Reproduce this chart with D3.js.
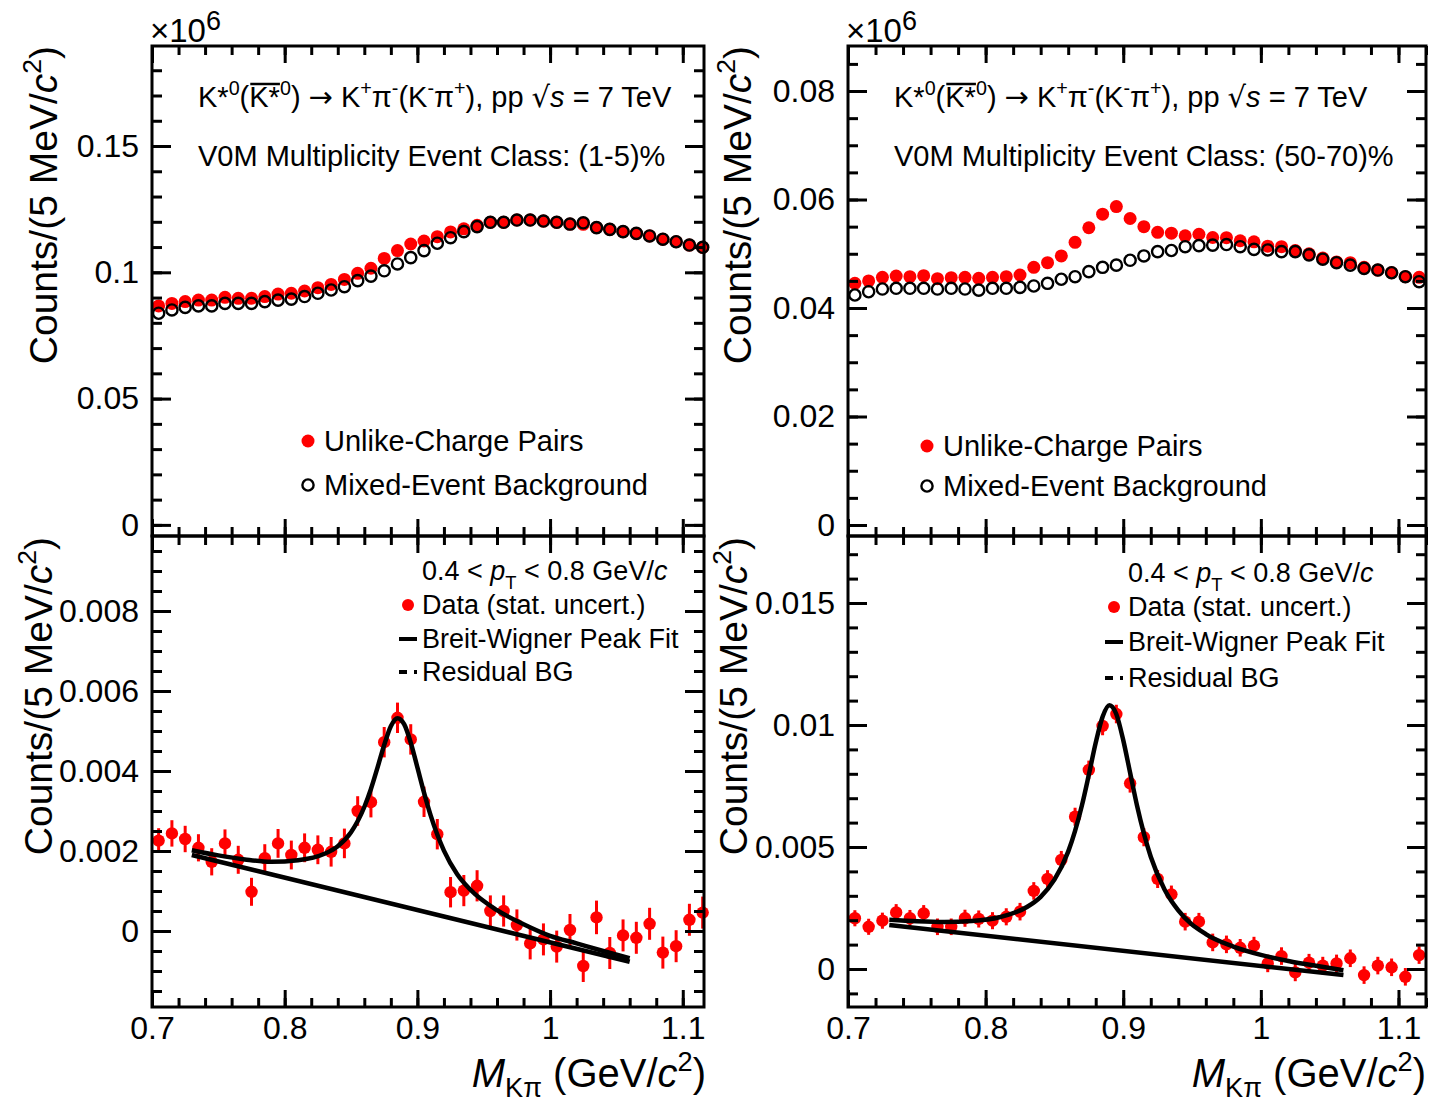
<!DOCTYPE html>
<html>
<head>
<meta charset="utf-8">
<script src="https://cdn.jsdelivr.net/npm/d3@7"></script>
<style>
  body { margin: 0; background: #fff; }
  svg text { font-family: "Liberation Sans", Arial, Helvetica, sans-serif; fill: #000; }
</style>
</head>
<body>
<div id="chart"></div>
<script>
// bin centres, GeV/c^2
const massBins = [0.705, 0.715, 0.725, 0.735, 0.745, 0.755, 0.765, 0.775, 0.785, 0.795,
    0.805, 0.815, 0.825, 0.835, 0.845, 0.855, 0.865, 0.875, 0.885, 0.895,
    0.905, 0.915, 0.925, 0.935, 0.945, 0.955, 0.965, 0.975, 0.985, 0.995,
    1.005, 1.015, 1.025, 1.035, 1.045, 1.055, 1.065, 1.075, 1.085, 1.095,
    1.105, 1.115];

// (1-5)% class, counts x10^6
const unlikeLow = [0.0867, 0.0877, 0.0884, 0.0890, 0.0890, 0.0901, 0.0897, 0.0897, 0.0904, 0.0914,
    0.0917, 0.0926, 0.0939, 0.0952, 0.0972, 0.0996, 0.1016, 0.1055, 0.1086, 0.1112,
    0.1124, 0.1141, 0.1160, 0.1172, 0.1186, 0.1198, 0.1198, 0.1207, 0.1207, 0.1203,
    0.1198, 0.1191, 0.1190, 0.1177, 0.1170, 0.1161, 0.1154, 0.1144, 0.1131, 0.1121,
    0.1108, 0.1099];
const mixedLow = [0.0838, 0.0851, 0.0861, 0.0867, 0.0867, 0.0877, 0.0877, 0.0877, 0.0884, 0.0890,
    0.0894, 0.0904, 0.0917, 0.0930, 0.0943, 0.0967, 0.0985, 0.1006, 0.1033, 0.1058,
    0.1086, 0.1115, 0.1137, 0.1161, 0.1181, 0.1198, 0.1198, 0.1207, 0.1207, 0.1203,
    0.1198, 0.1191, 0.1196, 0.1177, 0.1170, 0.1161, 0.1154, 0.1144, 0.1131, 0.1121,
    0.1108, 0.1099];

// (50-70)% class, counts x10^6
const unlikeHigh = [0.04455, 0.0450, 0.04565, 0.0459, 0.04577, 0.04596, 0.0454, 0.04559, 0.04565, 0.04547,
    0.04565, 0.04577, 0.04608, 0.0475, 0.04835, 0.0496, 0.0521, 0.0548, 0.0573, 0.0587,
    0.0565, 0.0550, 0.05395, 0.0538, 0.0533, 0.0536, 0.0530, 0.05296, 0.0524, 0.0522,
    0.0514, 0.0513, 0.0506, 0.0500, 0.0492, 0.0485, 0.04835, 0.0475, 0.0470, 0.0465,
    0.04577, 0.04565];
const mixedHigh = [0.0424, 0.0430, 0.0435, 0.04363, 0.04363, 0.04363, 0.0435, 0.04363, 0.0435, 0.0433,
    0.04363, 0.04363, 0.0438, 0.04406, 0.04455, 0.0453, 0.04577, 0.0467, 0.0475, 0.0479,
    0.0488, 0.0496, 0.0504, 0.0506, 0.0513, 0.0515, 0.0516, 0.0517, 0.0513, 0.0508,
    0.0507, 0.0504, 0.0504, 0.0498, 0.0490, 0.04835, 0.0479, 0.0473, 0.0470, 0.0465,
    0.04577, 0.04485];

// background subtracted signal, counts x10^6
const signalLow = [0.00226, 0.00244, 0.0023, 0.00208, 0.00173, 0.00219, 0.00178, 0.00098, 0.00182, 0.00219,
    0.0019, 0.00208, 0.00203, 0.00198, 0.00219, 0.0030, 0.00322, 0.00472, 0.00533, 0.00479,
    0.00323, 0.00242, 0.00097, 0.00101, 0.00113, 0.0005, 0.0005, 0.00015, -0.00031, -0.00021,
    -0.00039, 0.000025, -0.000875, 0.00034, -0.00055, -0.00011, -0.00017, 0.00018, -0.00054, -0.00038,
    0.00028, 0.00046];
const errLow = [0.00031, 0.00033, 0.00033, 0.00034, 0.00034, 0.00035, 0.00035, 0.00035, 0.00035, 0.00036,
    0.00036, 0.00036, 0.00036, 0.00037, 0.00037, 0.00037, 0.00038, 0.00038, 0.00038, 0.00038,
    0.00038, 0.00038, 0.00038, 0.00039, 0.00039, 0.00039, 0.00039, 0.00039, 0.0004, 0.0004,
    0.0004, 0.0004, 0.0004, 0.00042, 0.0004, 0.0004, 0.0004, 0.0004, 0.0004, 0.0004,
    0.0004, 0.0004];
const signalHigh = [0.00208, 0.00173, 0.00198, 0.00232, 0.00208, 0.00228, 0.00173, 0.00173, 0.00208, 0.00205,
    0.00198, 0.00214, 0.00235, 0.0032, 0.00369, 0.00447, 0.00624, 0.00816, 0.00996, 0.01045,
    0.00761, 0.0054, 0.00369, 0.00306, 0.00194, 0.00194, 0.00109, 0.00101, 0.00087, 0.00096,
    0.00023, 0.00053, -0.00014, 0.00026, 0.00014, 0.00023, 0.00044, -0.00025, 0.00014, 0.00007,
    -0.00032, 0.00057];
const errHigh = [0.00033, 0.00033, 0.00033, 0.00034, 0.00034, 0.00034, 0.00034, 0.00034, 0.00035, 0.00035,
    0.00035, 0.00035, 0.00036, 0.00036, 0.00036, 0.00037, 0.00037, 0.00038, 0.00038, 0.00038,
    0.00038, 0.00037, 0.00037, 0.00036, 0.00036, 0.00036, 0.00036, 0.00036, 0.00036, 0.00036,
    0.00036, 0.00036, 0.00036, 0.00036, 0.00036, 0.00036, 0.00036, 0.00036, 0.00036, 0.00036,
    0.00036, 0.00036];

// fit curves
const fitMass = [0.73, 0.75, 0.77, 0.79, 0.81, 0.83, 0.84, 0.85, 0.86, 0.865, 0.87, 0.875, 0.88, 0.885,
    0.89, 0.895, 0.90, 0.905, 0.91, 0.92, 0.93, 0.94, 0.96, 0.98, 1.00, 1.02, 1.04, 1.06];
const fitLow = [0.00202, 0.00189, 0.00179, 0.00173, 0.00177, 0.00193, 0.00212, 0.00247, 0.0031, 0.00355,
    0.00409, 0.00465, 0.00512, 0.00532, 0.00517, 0.00471, 0.00409, 0.00346, 0.00289, 0.00201,
    0.00142, 0.00103, 0.00052, 0.00017, -0.00012, -0.00031, -0.0005, -0.00068];
const fitHigh = [0.00202, 0.00196, 0.00193, 0.00197, 0.00212, 0.00254, 0.00296, 0.00366, 0.00481, 0.00566,
    0.00671, 0.00796, 0.00927, 0.01034, 0.01081, 0.01044, 0.00938, 0.00804, 0.0067, 0.0046,
    0.00326, 0.0024, 0.00143, 0.00092, 0.00058, 0.00033, 0.00013, -0.00005];
const bgMass = [0.73, 1.06];
const bgLow = [0.0019, -0.00077];
const bgHigh = [0.0018, -0.00025];

// tick labels
const xTicks = [0.7, 0.8, 0.9, 1, 1.1];
const yTicksTopLow = [0, 0.05, 0.1, 0.15];
const yTicksTopHigh = [0, 0.02, 0.04, 0.06, 0.08];
const yTicksBotLow = [0, 0.002, 0.004, 0.006, 0.008];
const yTicksBotHigh = [0, 0.005, 0.01, 0.015];

const FONT = "'Liberation Sans', Arial, Helvetica, sans-serif";

const svg = d3.select("#chart").append("svg")
    .attr("width", 1443)
    .attr("height", 1104);

// text with super/subscripts as tspans
function richText(parent, x, y, size, parts, anchor) {
    const text = parent.append("text")
        .attr("x", x)
        .attr("y", y)
        .attr("font-size", size)
        .attr("text-anchor", anchor || "start");
    let shift = 0;
    parts.forEach(p => {
        const target = p.sup ? -(p.rise || 0.4) * size : (p.sub ? (p.drop || 0.32) * size : 0);
        const span = text.append("tspan")
            .attr("dy", target - shift)
            .attr("font-size", p.size || ((p.sup || p.sub) ? 0.68 * size : size))
            .text(p.t);
        if (p.it) span.attr("font-style", "italic");
        if (p.font) span.attr("font-family", p.font);
        if (p.over) span.classed("over", true);
        shift = target;
    });
    return text;
}

class MassPanel {

    constructor(svg, config) {
        this.svg = svg;
        this.config = config;
        this.initVis();
    }

    initVis() {
        let vis = this;
        let c = vis.config;

        vis.g = vis.svg.append("g");

        vis.x = d3.scaleLinear()
            .domain(c.xDomain)
            .range([c.left, c.right]);

        vis.y = d3.scaleLinear()
            .domain(c.yDomain)
            .range([c.bottom, c.top]);

        vis.layer = vis.g.append("g");
        vis.drawAxes();
    }

    drawAxes() {
        let vis = this;
        let c = vis.config;

        const minors = (dom, step) => {
            const lo = Math.ceil(dom[0] / step - 1e-9);
            const hi = Math.floor(dom[1] / step + 1e-9);
            return d3.range(lo, hi + 1).map(i => +(i * step).toFixed(6));
        };
        const xMinor = minors(vis.x.domain(), 0.02);
        const yMinor = minors(vis.y.domain(), c.yMinorStep);

        const sides = [
            {axis: d3.axisLeft, scale: vis.y, tr: `translate(${c.left},0)`, major: c.yTicks, minor: yMinor, len: 19, mlen: 10, labels: true, pad: 13},
            {axis: d3.axisRight, scale: vis.y, tr: `translate(${c.right},0)`, major: c.yTicks, minor: yMinor, len: 19, mlen: 10, labels: false, pad: 0},
            {axis: d3.axisTop, scale: vis.x, tr: `translate(0,${c.top})`, major: xTicks, minor: xMinor, len: 17, mlen: 9, labels: false, pad: 0},
            {axis: d3.axisBottom, scale: vis.x, tr: `translate(0,${c.bottom})`, major: xTicks, minor: xMinor, len: 17, mlen: 9, labels: c.xLabels, pad: 9}
        ];

        sides.forEach(s => {
            const minorG = vis.g.append("g")
                .attr("transform", s.tr)
                .call(s.axis(s.scale).tickValues(s.minor).tickSize(-s.mlen).tickFormat(""));
            const majorG = vis.g.append("g")
                .attr("transform", s.tr)
                .call(s.axis(s.scale).tickValues(s.major).tickSize(-s.len).tickPadding(s.pad)
                    .tickFormat(s.labels ? d => String(d) : ""));
            [minorG, majorG].forEach(g => {
                g.select(".domain").remove();
                g.attr("font-family", FONT).attr("font-size", 32);
                g.selectAll("line").attr("stroke-width", 3);
            });
        });

        // frame
        vis.g.append("rect")
            .attr("x", c.left)
            .attr("y", c.top)
            .attr("width", c.right - c.left)
            .attr("height", c.bottom - c.top)
            .attr("fill", "none")
            .attr("stroke", "#000")
            .attr("stroke-width", 3);
    }

    drawPairs(unlike, mixed) {
        let vis = this;

        vis.layer.append("g").selectAll("circle")
            .data(massBins.map((m, i) => ({m: m, v: unlike[i]})))
            .join("circle")
            .attr("cx", d => vis.x(d.m))
            .attr("cy", d => vis.y(d.v))
            .attr("r", 6.5)
            .attr("fill", "#ff0000");

        vis.layer.append("g").selectAll("circle")
            .data(massBins.map((m, i) => ({m: m, v: mixed[i]})))
            .join("circle")
            .attr("cx", d => vis.x(d.m))
            .attr("cy", d => vis.y(d.v))
            .attr("r", 5.6)
            .attr("fill", "none")
            .attr("stroke", "#000")
            .attr("stroke-width", 2.4);
    }

    drawSignal(values, errors, fit, bg) {
        let vis = this;
        const pts = massBins.map((m, i) => ({m: m, v: values[i], e: errors[i]}));

        vis.layer.append("g").selectAll("line")
            .data(pts)
            .join("line")
            .attr("x1", d => vis.x(d.m))
            .attr("x2", d => vis.x(d.m))
            .attr("y1", d => vis.y(d.v - d.e))
            .attr("y2", d => vis.y(d.v + d.e))
            .attr("stroke", "#ff0000")
            .attr("stroke-width", 3);

        vis.layer.append("g").selectAll("circle")
            .data(pts)
            .join("circle")
            .attr("cx", d => vis.x(d.m))
            .attr("cy", d => vis.y(d.v))
            .attr("r", 6.2)
            .attr("fill", "#ff0000");

        const line = d3.line()
            .x(d => vis.x(d[0]))
            .y(d => vis.y(d[1]));

        vis.layer.append("path")
            .datum(bgMass.map((m, i) => [m, bg[i]]))
            .attr("d", line)
            .attr("fill", "none")
            .attr("stroke", "#000")
            .attr("stroke-width", 4.5);

        vis.layer.append("path")
            .datum(fitMass.map((m, i) => [m, fit[i]]))
            .attr("d", line.curve(d3.curveMonotoneX))
            .attr("fill", "none")
            .attr("stroke", "#000")
            .attr("stroke-width", 4.5);
    }
}

const topLow = new MassPanel(svg, {left: 152, right: 704, top: 46, bottom: 536,
    xDomain: [0.7, 1.116], yDomain: [-0.0044, 0.1896], yTicks: yTicksTopLow, yMinorStep: 0.01, xLabels: false});
const topHigh = new MassPanel(svg, {left: 848, right: 1426, top: 46, bottom: 536,
    xDomain: [0.7, 1.12], yDomain: [-0.00203, 0.0883], yTicks: yTicksTopHigh, yMinorStep: 0.005, xLabels: false});
const botLow = new MassPanel(svg, {left: 152, right: 704, top: 536, bottom: 1007,
    xDomain: [0.7, 1.116], yDomain: [-0.0019, 0.009875], yTicks: yTicksBotLow, yMinorStep: 0.0005, xLabels: true});
const botHigh = new MassPanel(svg, {left: 848, right: 1426, top: 536, bottom: 1007,
    xDomain: [0.7, 1.12], yDomain: [-0.001557, 0.017746], yTicks: yTicksBotHigh, yMinorStep: 0.001, xLabels: true});

topLow.drawPairs(unlikeLow, mixedLow);
topHigh.drawPairs(unlikeHigh, mixedHigh);
botLow.drawSignal(signalLow, errLow, fitLow, bgLow);
botHigh.drawSignal(signalHigh, errHigh, fitHigh, bgHigh);

// texts
const headerParts = [
    {t: "K"}, {t: "*"}, {t: "0", sup: 1}, {t: "("}, {t: "K*", over: 1}, {t: "0", sup: 1},
    {t: ") "}, {t: "\u2192", font: "DejaVu Sans"}, {t: " K"}, {t: "+", sup: 1}, {t: "\u03c0"}, {t: "-", sup: 1},
    {t: "(K"}, {t: "-", sup: 1}, {t: "\u03c0"}, {t: "+", sup: 1}, {t: "), pp "}, {t: "\u221a", font: "DejaVu Sans"},
    {t: "s", it: 1}, {t: " = 7 TeV"}
];
const yTitle = [{t: "Counts/(5 MeV/"}, {t: "c", it: 1}, {t: "2", sup: 1}, {t: ")"}];
const xTitle = [{t: "M", it: 1}, {t: "K\u03c0", sub: 1, drop: 0.24}, {t: " (GeV/"}, {t: "c", it: 1}, {t: "2", sup: 1}, {t: ")"}];
const ptParts = [{t: "0.4 < "}, {t: "p", it: 1}, {t: "T", sub: 1}, {t: " < 0.8 GeV/"}, {t: "c", it: 1}];

const annot = svg.append("g");

[{x: 198, cls: "(1-5)%", mx: 150}, {x: 894, cls: "(50-70)%", mx: 846}].forEach(h => {
    const t = richText(annot, h.x, 107, 29, headerParts);
    const over = t.select("tspan.over").node();
    const p0 = over.getStartPositionOfChar(0);
    annot.append("line")
        .attr("x1", p0.x + 1)
        .attr("x2", p0.x + over.getComputedTextLength())
        .attr("y1", 107 - 23)
        .attr("y2", 107 - 23)
        .attr("stroke", "#000")
        .attr("stroke-width", 2.5);
    richText(annot, h.x, 166, 29, [{t: "V0M Multiplicity Event Class: " + h.cls}]);
    richText(annot, h.mx, 42, 33, [{t: "\u00d710"}, {t: "6", sup: 1, rise: 0.36, size: 27}]);
});

// y titles
[[57, 46], [52, 537], [751, 46], [747, 537]].forEach(p => {
    const g = annot.append("g").attr("transform", `translate(${p[0]},${p[1]}) rotate(-90)`);
    richText(g, 0, 0, 39, yTitle, "end");
});

// x titles
richText(annot, 706, 1087, 40, xTitle, "end");
richText(annot, 1426, 1087, 40, xTitle, "end");

// top legends
[{x: 308, y1: 441, y2: 485}, {x: 927, y1: 446, y2: 486}].forEach(l => {
    annot.append("circle").attr("cx", l.x).attr("cy", l.y1).attr("r", 6.5).attr("fill", "#ff0000");
    annot.append("circle").attr("cx", l.x).attr("cy", l.y2).attr("r", 5.6)
        .attr("fill", "none").attr("stroke", "#000").attr("stroke-width", 2.4);
    richText(annot, l.x + 16, l.y1 + 10, 29, [{t: "Unlike-Charge Pairs"}]);
    richText(annot, l.x + 16, l.y2 + 10, 29, [{t: "Mixed-Event Background"}]);
});

// bottom legends
[{x: 422, ys: [570, 604, 638, 671]}, {x: 1128, ys: [572, 606, 641, 677]}].forEach(l => {
    richText(annot, l.x, l.ys[0] + 10, 27, ptParts);
    annot.append("circle").attr("cx", l.x - 14).attr("cy", l.ys[1] + 1).attr("r", 6).attr("fill", "#ff0000");
    richText(annot, l.x, l.ys[1] + 10, 27, [{t: "Data (stat. uncert.)"}]);
    annot.append("line").attr("x1", l.x - 23).attr("x2", l.x - 5)
        .attr("y1", l.ys[2] + 1).attr("y2", l.ys[2] + 1)
        .attr("stroke", "#000").attr("stroke-width", 4);
    richText(annot, l.x, l.ys[2] + 10, 27, [{t: "Breit-Wigner Peak Fit"}]);
    annot.append("line").attr("x1", l.x - 23).attr("x2", l.x - 4)
        .attr("y1", l.ys[3] + 1).attr("y2", l.ys[3] + 1)
        .attr("stroke", "#000").attr("stroke-width", 4)
        .attr("stroke-dasharray", "8,7,3,20");
    richText(annot, l.x, l.ys[3] + 10, 27, [{t: "Residual BG"}]);
});
</script>
</body>
</html>
